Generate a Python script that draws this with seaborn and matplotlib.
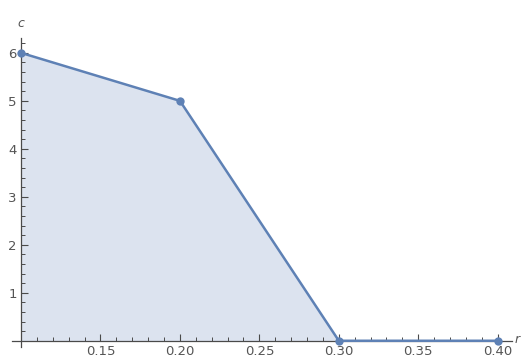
import matplotlib
matplotlib.use("Agg")
import matplotlib.pyplot as plt
from matplotlib.ticker import MultipleLocator, FixedLocator
import seaborn as sns
import pandas as pd

r_vals = [0.10, 0.20, 0.30, 0.40]
c_vals = [6, 5, 0, 0]
x_ticks = [0.15, 0.20, 0.25, 0.30, 0.35, 0.40]
x_tick_labels = ["0.15", "0.20", "0.25", "0.30", "0.35", "0.40"]
y_ticks = [1, 2, 3, 4, 5, 6]

sns.set_style("white")
plt.rcParams["font.family"] = ["DejaVu Sans"]

line_color = "#5e81b5"
fill_color = "#dce3ef"
text_color = "#555555"
axis_color = "#4a4a4a"

W, H = 525, 359
fig = plt.figure(figsize=(W / 100, H / 100), dpi=100)
left, right, top, bottom = 12, 512, 38, 347
ax = fig.add_axes([left / W, 1 - bottom / H, (right - left) / W, (bottom - top) / H])
ax.set_axisbelow(False)

df = pd.DataFrame({"r": r_vals, "c": c_vals})
ax.fill_between(df["r"], df["c"], 0, color=fill_color, lw=0, zorder=1)
sns.lineplot(data=df, x="r", y="c", ax=ax, color=line_color, lw=1.8,
             marker="o", markersize=6, markeredgewidth=0, zorder=3)

ax.set_xlim(0.0943, 0.409)
ax.set_ylim(-0.13, 6.31)

for s in ["top", "right"]:
    ax.spines[s].set_visible(False)
ax.spines["left"].set_position(("data", 0.1))
ax.spines["bottom"].set_position(("data", 0))
for s in ["left", "bottom"]:
    ax.spines[s].set_color(axis_color)
    ax.spines[s].set_linewidth(0.9)
    ax.spines[s].set_zorder(2)

ax.xaxis.set_major_locator(FixedLocator(x_ticks))
ax.set_xticklabels(x_tick_labels)
ax.xaxis.set_minor_locator(MultipleLocator(0.01))
ax.yaxis.set_major_locator(FixedLocator(y_ticks))
ax.yaxis.set_minor_locator(MultipleLocator(0.2))

ax.tick_params(axis="both", which="both", bottom=True, left=True,
               top=False, right=False)
ax.tick_params(axis="both", which="major", direction="in", length=5, width=0.8,
               color=axis_color, labelcolor=text_color, labelsize=9.5)
ax.tick_params(axis="both", which="minor", direction="in", length=3, width=0.7,
               color=axis_color)
ax.tick_params(axis="x", pad=3)
ax.tick_params(axis="y", pad=3)

ax.set_xlabel("")
ax.set_ylabel("")
ax.text(0.1, 6.62, "c", ha="center", va="center", fontsize=9, style="italic",
        color=text_color, clip_on=False)
ax.text(0.4125, 0.02, "r", ha="center", va="center", fontsize=9, style="italic",
        color=text_color, clip_on=False)

fig.savefig("out.png", dpi=100)
